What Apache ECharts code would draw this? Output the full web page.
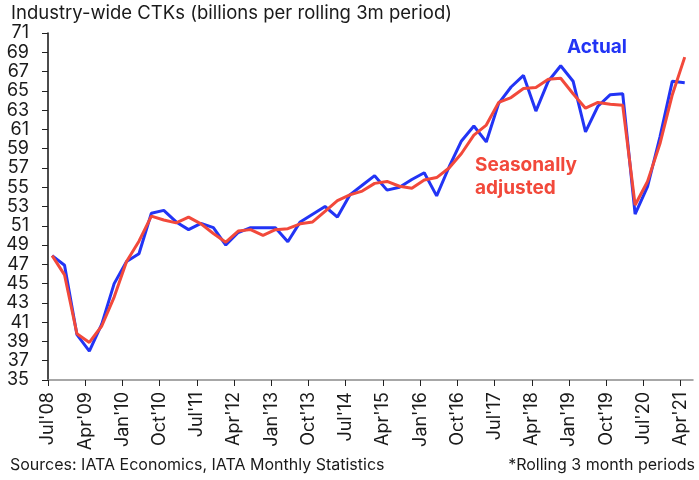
<!DOCTYPE html>
<html>
<head>
<meta charset="utf-8">
<script src="https://cdn.jsdelivr.net/npm/echarts@6/dist/echarts.min.js"></script>
<style>
  html, body { margin: 0; padding: 0; background: #fff; }
  #chart { width: 699px; height: 480px; }
</style>
</head>
<body>
<div id="chart"></div>
<script>
// rolling 3m periods, first one is Aug'08, then every quarter
var firstMonth = 1;      // months after Jul'08
var stepMonths = 3;
var actual = [
  47.9, 46.9, 39.7, 38.0, 40.8, 45.0, 47.3, 48.1, 52.3, 52.6,
  51.4, 50.6, 51.25, 50.8, 49.0, 50.3, 50.8, 50.8, 50.8, 49.35,
  51.4, 52.2, 53.0, 51.9, 54.2, 55.2, 56.2, 54.7, 55.0, 55.8,
  56.5, 54.1, 57.1, 59.8, 61.35, 59.7, 63.7, 65.4, 66.6, 62.9,
  66.0, 67.6, 66.0, 60.75, 63.4, 64.6, 64.7, 52.2, 55.05, 60.2,
  66.0, 65.85
];
var seasAdj = [
  47.9, 45.9, 39.8, 38.9, 40.6, 43.6, 47.3, 49.4, 52.0, 51.6,
  51.3, 51.9, 51.2, 50.2, 49.3, 50.45, 50.6, 50.0, 50.6, 50.7,
  51.2, 51.4, 52.5, 53.6, 54.2, 54.6, 55.4, 55.6, 55.1, 54.9,
  55.75, 56.0, 57.0, 58.5, 60.4, 61.45, 63.8, 64.3, 65.25, 65.35,
  66.2, 66.3, 64.7, 63.2, 63.8, 63.6, 63.5, 53.15, 55.6, 59.5,
  64.6, 68.5
];
var xTickLabels = ["Jul'08", "Apr'09", "Jan'10", "Oct'10", "Jul'11", "Apr'12",
  "Jan'13", "Oct'13", "Jul'14", "Apr'15", "Jan'16", "Oct'16", "Jul'17",
  "Apr'18", "Jan'19", "Oct'19", "Jul'20", "Apr'21"];

var font = 'Inter, "Noto Sans", sans-serif';
var textColor = '#1a1a1a';

function toPoints(values) {
    return values.map(function (v, i) {
        return [firstMonth + i * stepMonths, v];
    });
}

var myChart = echarts.init(document.getElementById('chart'));
var option = {
    animation: false,
    textStyle: { fontFamily: font },
    grid: { left: 48, right: 6, top: 33, bottom: 100 },
    xAxis: {
        type: 'value',
        min: 0,
        max: 156,
        interval: 9,
        splitLine: { show: false },
        axisLine: { lineStyle: { color: '#8a8a8a', width: 1.5 } },
        axisTick: { show: true, length: 6, lineStyle: { color: '#222' } },
        axisLabel: {
            rotate: 90,
            margin: 12,
            fontSize: 18,
            color: textColor,
            fontFamily: font,
            showMaxLabel: false,
            formatter: function (v) {
                var idx = Math.round(v / 9);
                return (v % 9 === 0 && xTickLabels[idx]) ? xTickLabels[idx] : '';
            }
        }
    },
    yAxis: {
        type: 'value',
        min: 35,
        max: 71,
        interval: 2,
        splitLine: { show: false },
        axisLine: { show: true, lineStyle: { color: '#111', width: 1.5 } },
        axisTick: { show: true, length: 6, lineStyle: { color: '#222' } },
        axisLabel: { margin: 19, fontSize: 18, color: textColor, fontFamily: font }
    },
    series: [{
        name: 'Actual',
        type: 'line',
        data: toPoints(actual),
        showSymbol: false,
        lineStyle: { color: '#2234f5', width: 3 },
        z: 2
    }, {
        name: 'Seasonally adjusted',
        type: 'line',
        data: toPoints(seasAdj),
        showSymbol: false,
        lineStyle: { color: '#f2493b', width: 3 },
        z: 3
    }],
    graphic: [{
        type: 'text', left: 11, top: 4,
        style: { text: 'Industry-wide CTKs (billions per rolling 3m period)', font: '18.5px ' + font, fill: textColor }
    }, {
        type: 'text', left: 567, top: 38,
        style: { text: 'Actual', font: 'bold 19px ' + font, fill: '#2234f5' }
    }, {
        type: 'text', left: 475, top: 154,
        style: { text: 'Seasonally\nadjusted', font: 'bold 19px ' + font, fill: '#f2493b', lineHeight: 23 }
    }, {
        type: 'text', left: 10, top: 457,
        style: { text: 'Sources: IATA Economics, IATA Monthly Statistics', font: '16px ' + font, fill: textColor }
    }, {
        type: 'text', right: 4, top: 457,
        style: { text: '*Rolling 3 month periods', font: '16px ' + font, fill: textColor }
    }]
};
option && myChart.setOption(option);
</script>
</body>
</html>
